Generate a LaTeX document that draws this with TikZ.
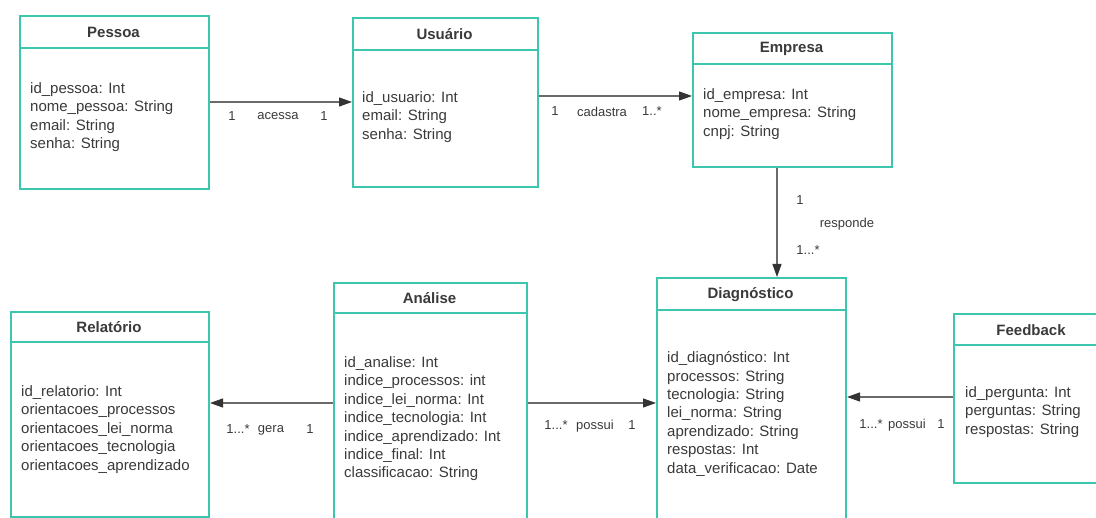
\documentclass[tikz,border=0pt]{standalone}
\usepackage{fontspec}
\setmainfont{Liberation Sans}
\usetikzlibrary{arrows.meta}
\definecolor{umlteal}{HTML}{3CC6AE}
\definecolor{umltext}{HTML}{3A3A3A}
\definecolor{umlline}{HTML}{6A6A6A}
\definecolor{umlhead}{HTML}{333333}
\begin{document}
\begin{tikzpicture}[x=1pt,y=-1pt,
  box/.style={draw=umlteal, line width=2pt, fill=white, anchor=north west, inner sep=0pt},
  boxline/.style={draw=umlteal, line width=2pt},
  title/.style={font=\fontsize{15}{18}\selectfont\bfseries, text=umltext, inner sep=0pt},
  attrs/.style={font=\fontsize{15}{18.4}\selectfont, text=umltext, align=left, anchor=north west, inner sep=0pt},
  lbl/.style={font=\fontsize{13}{15}\selectfont, text=umltext, inner sep=0pt},
  assoc/.style={draw=umlline, line width=1.2pt, -{Triangle[length=13pt,width=9pt,color=umlhead]}}]
\clip (0,0) rectangle (1096,518);
\fill[white] (0,0) rectangle (1096,518);

% Pessoa
\node[box, minimum width=189pt, minimum height=173pt] (pessoa) at (19,15) {};
\draw[boxline] (pessoa.west |- 0,48) -- (pessoa.east |- 0,48);
\node[title] (tpessoa) at (113.5,32.5) {Pessoa};
\node[attrs] (apessoa) at (30,82.5) {id\_pessoa: Int\\nome\_pessoa: String\\email: String\\senha: String};

% Usuario
\node[box, minimum width=185pt, minimum height=169pt] (usuario) at (352,17) {};
\draw[boxline] (usuario.west |- 0,50) -- (usuario.east |- 0,50);
\node[title] (tusuario) at (444.5,34.5) {Usuário};
\node[attrs] (ausuario) at (362,91.5) {id\_usuario: Int\\email: String\\senha: String};

% Empresa
\node[box, minimum width=199pt, minimum height=134pt] (empresa) at (692,32) {};
\draw[boxline] (empresa.west |- 0,64) -- (empresa.east |- 0,64);
\node[title] (tempresa) at (791.5,49) {Empresa};
\node[attrs] (aempresa) at (703,88.5) {id\_empresa: Int\\nome\_empresa: String\\cnpj: String};

% Diagnostico
\node[box, minimum width=189pt, minimum height=260pt] (diag) at (656,277) {};
\draw[boxline] (diag.west |- 0,310) -- (diag.east |- 0,310);
\node[title] (tdiag) at (750.5,294.5) {Diagnóstico};
\node[attrs] (adiag) at (667,351.5) {id\_diagnóstico: Int\\processos: String\\tecnologia: String\\lei\_norma: String\\aprendizado: String\\respostas: Int\\data\_verificacao: Date};

% Feedback
\node[box, minimum width=157pt, minimum height=169pt] (feedback) at (953,313) {};
\draw[boxline] (feedback.west |- 0,345) -- (feedback.east |- 0,345);
\node[title] (tfeedback) at (1031,330) {Feedback};
\node[attrs] (afeedback) at (965,386.5) {id\_pergunta: Int\\perguntas: String\\respostas: String};

% Analise
\node[box, minimum width=193pt, minimum height=255pt] (analise) at (333,282) {};
\draw[boxline] (analise.west |- 0,313) -- (analise.east |- 0,313);
\node[title] (tanalise) at (429.5,298.5) {Análise};
\node[attrs] (aanalise) at (344,356.5) {id\_analise: Int\\indice\_processos: int\\indice\_lei\_norma: Int\\indice\_tecnologia: Int\\indice\_aprendizado: Int\\indice\_final: Int\\classificacao: String};

% Relatorio
\node[box, minimum width=198pt, minimum height=205pt] (relatorio) at (10,311) {};
\draw[boxline] (relatorio.west |- 0,342) -- (relatorio.east |- 0,342);
\node[title] (trelatorio) at (109,327.5) {Relatório};
\node[attrs] (arelatorio) at (21,385.5) {id\_relatorio: Int\\orientacoes\_processos\\orientacoes\_lei\_norma\\orientacoes\_tecnologia\\orientacoes\_aprendizado};

% connector levels
\coordinate (yA) at (0,102);
\coordinate (yB) at (0,96);
\coordinate (xC) at (777,0);
\coordinate (yD) at (0,403);
\coordinate (yE) at (0,397);

% connectors
\draw[assoc] (pessoa.east |- yA) -- (usuario.west |- yA);
\draw[assoc] (usuario.east |- yB) -- (empresa.west |- yB);
\draw[assoc] (empresa.south -| xC) -- (diag.north -| xC);
\draw[assoc] (analise.east |- yD) -- (diag.west |- yD);
\draw[assoc] (analise.west |- yD) -- (relatorio.east |- yD);
\draw[assoc] (feedback.west |- yE) -- (diag.east |- yE);

% labels
\node[lbl] (l1) at (232,116) {1};
\node[lbl] (l2) at (278,116) {acessa};
\node[lbl] (l3) at (324,116) {1};
\node[lbl] (l4) at (555,111) {1};
\node[lbl] (l5) at (602,112) {cadastra};
\node[lbl] (l6) at (652,111) {1..*};
\node[lbl] (l7) at (800,200) {1};
\node[lbl] (l8) at (847,224) {responde};
\node[lbl] (l9) at (808,250) {1...*};
\node[lbl] (l10) at (238,429) {1...*};
\node[lbl] (l11) at (271,430) {gera};
\node[lbl] (l12) at (310,429) {1};
\node[lbl] (l13) at (556,425) {1...*};
\node[lbl] (l14) at (595,426) {possui};
\node[lbl] (l15) at (632,425) {1};
\node[lbl] (l16) at (871,424) {1...*};
\node[lbl] (l17) at (907,425) {possui};
\node[lbl] (l18) at (941,424) {1};
\end{tikzpicture}
\end{document}
